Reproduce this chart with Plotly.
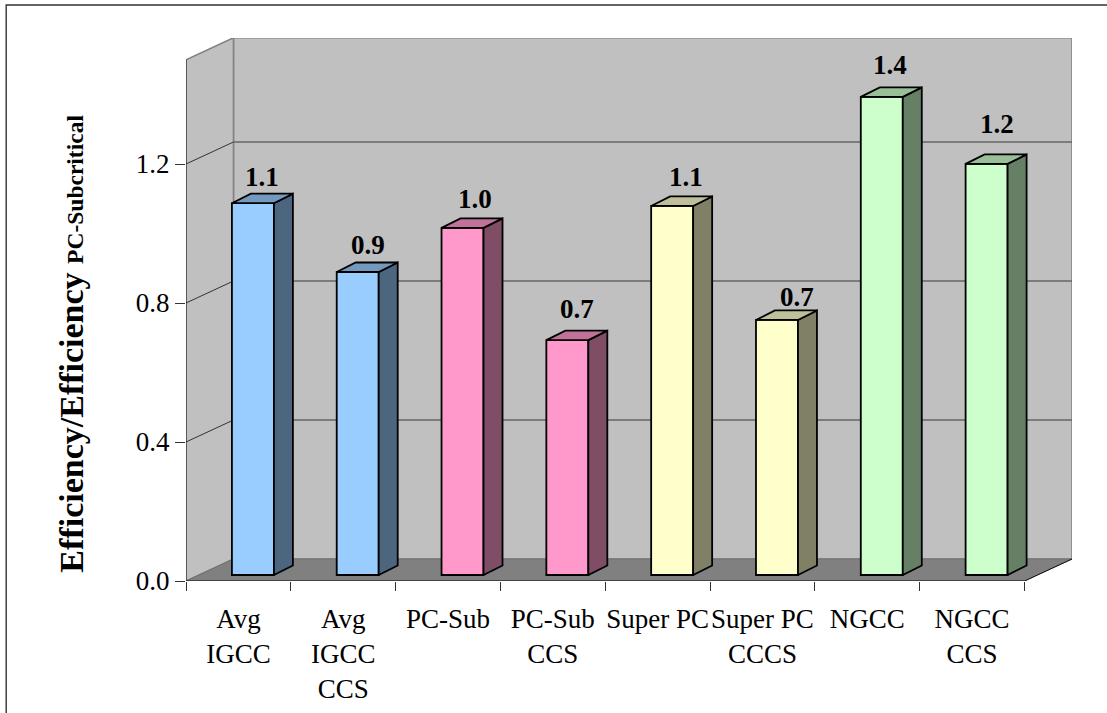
import plotly.graph_objects as go

categories = ["Avg<br>IGCC", "Avg<br>IGCC<br>CCS", "PC-Sub", "PC-Sub<br>CCS", "Super PC",
              "Super PC<br>CCCS", "NGCC", "NGCC<br>CCS"]
values = [1.07, 0.872, 0.999, 0.676, 1.062, 0.734, 1.376, 1.183]
labels = ["1.1", "0.9", "1.0", "0.7", "1.1", "0.7", "1.4", "1.2"]
y_ticks = [0.0, 0.4, 0.8, 1.2]
front_colors = ["#99CCFF", "#99CCFF", "#FF99CC", "#FF99CC", "#FFFFCC", "#FFFFCC", "#CCFFCC", "#CCFFCC"]
side_colors = ["#4D6680", "#4D6680", "#804D66", "#804D66", "#808066", "#808066", "#668066", "#668066"]
top_colors = ["#7399BF", "#7399BF", "#BF7399", "#BF7399", "#BFBF99", "#BFBF99", "#99BF99", "#99BF99"]
label_dx = [9, 10, 12, 10, 14, 20, 8, 10]
label_dy = [26, 27, 29, 31, 29, 23, 32, 40]

W, H = 1107, 713
L, R, T, B = 185.5, 1072.5, 38, 581
PX_X = 104.85   # px per category
PX_Y = 347.5    # px per unit
FONT = "Liberation Serif"

wall_dx, wall_dy = 47.5 / PX_X, 22 / PX_Y
bar_off, bar_base = 14.5 / PX_X, 6 / PX_Y
bar_w = 42 / PX_X
depth_x, depth_y = 19 / PX_X, 9.5 / PX_Y
y_top = 1.5
x0, x1 = -0.5, 7.5


def path(pts):
    return "M" + " L".join(f"{a},{b}" for a, b in pts) + " Z"


GREY = "#808080"
shapes = [
    dict(type="path", path=path([(x0 + wall_dx, wall_dy), (x1 + wall_dx, wall_dy), (x1 + wall_dx, y_top + wall_dy),
                                 (x0 + wall_dx, y_top + wall_dy)]),
         fillcolor="#C0C0C0", line=dict(color=GREY, width=1.5), layer="below"),
    dict(type="path", path=path([(x0, 0), (x0 + wall_dx, wall_dy), (x0 + wall_dx, y_top + wall_dy), (x0, y_top)]),
         fillcolor="#C0C0C0", line=dict(color=GREY, width=1.5), layer="below"),
    dict(type="path", path=path([(x0, 0), (x1, 0), (x1 + wall_dx, wall_dy), (x0 + wall_dx, wall_dy)]),
         fillcolor=GREY, line=dict(color="#707070", width=1), layer="below"),
]
for t in y_ticks[1:]:
    shapes.append(dict(type="line", x0=x0, y0=t, x1=x0 + wall_dx, y1=t + wall_dy,
                       line=dict(color="#333333", width=1), layer="below"))
    shapes.append(dict(type="line", x0=x0 + wall_dx, y0=t + wall_dy, x1=x1 + wall_dx, y1=t + wall_dy,
                       line=dict(color="#666666", width=1.5), layer="below"))
shapes += [
    dict(type="line", x0=x0, y0=0, x1=x0, y1=y_top, line=dict(color="#222222", width=1), layer="below"),
    dict(type="line", x0=x0, y0=0, x1=x1, y1=0, line=dict(color="#111111", width=1.2), layer="below"),
    dict(type="line", x0=x1, y0=0, x1=x1 + wall_dx, y1=wall_dy, line=dict(color="#111111", width=1), layer="below"),
    dict(type="path", xref="paper", yref="paper",
         path=path([((5.5 - L) / (R - L), (B - (H + 20)) / (B - T)),
                    ((5.5 - L) / (R - L), (B - 5) / (B - T)),
                    ((W + 20 - L) / (R - L), (B - 5) / (B - T)),
                    ((W + 20 - L) / (R - L), (B - (H + 20)) / (B - T))]),
         line=dict(color="#333333", width=1.4), fillcolor="rgba(0,0,0,0)", layer="above"),
]

fig = go.Figure()
xs = list(range(len(values)))
fig.add_trace(go.Bar(
    x=[i + bar_off for i in xs], y=values, base=[bar_base] * len(values), width=bar_w,
    marker=dict(color=front_colors, line=dict(color="black", width=1.8)), showlegend=False, hoverinfo="skip"))

for i, v in zip(xs, values):
    left = i + bar_off - bar_w / 2
    right = i + bar_off + bar_w / 2
    top = bar_base + v
    side = [(right, bar_base), (right + depth_x, bar_base + depth_y), (right + depth_x, top + depth_y), (right, top),
            (right, bar_base)]
    roof = [(left, top), (right, top), (right + depth_x, top + depth_y), (left + depth_x, top + depth_y), (left, top)]
    for poly, col in ((side, side_colors[i]), (roof, top_colors[i])):
        fig.add_trace(go.Scatter(x=[p[0] for p in poly], y=[p[1] for p in poly], mode="lines", fill="toself",
                                 fillcolor=col, line=dict(color="black", width=1.8), showlegend=False,
                                 hoverinfo="skip"))

annotations = [
    dict(x=i + bar_off, y=bar_base + v, xref="x", yref="y", text=f"<b>{lab}</b>", showarrow=False,
         xshift=dx, yshift=dy, xanchor="center", yanchor="middle", font=dict(family=FONT, size=27, color="black"))
    for i, v, lab, dx, dy in zip(xs, values, labels, label_dx, label_dy)
]
annotations.append(dict(
    xref="paper", yref="paper", x=(70 - L) / (R - L), y=(B - 344) / (B - T), textangle=-90, showarrow=False,
    xanchor="center", yanchor="middle",
    text='<b>Efficiency/Efficiency <span style="font-size:23.5px">PC-Subcritical</span></b>',
    font=dict(family=FONT, size=34, color="black")))

fig.update_layout(
    width=W, height=H, margin=dict(l=L, r=W - R, t=T, b=H - B, pad=0, autoexpand=False),
    paper_bgcolor="white", plot_bgcolor="white", barmode="overlay", shapes=shapes, annotations=annotations,
    font=dict(family=FONT, size=27, color="black"), showlegend=False,
    xaxis=dict(range=[x0, x1 + wall_dx], tickmode="array", tickvals=xs, ticktext=categories, ticks="",
               ticklabelstandoff=19, showgrid=False, zeroline=False, showline=False,
               minor=dict(tickmode="array", tickvals=[i - 0.5 for i in range(9)], ticks="outside", ticklen=9,
                          tickcolor="#333333", tickwidth=1, showgrid=False)),
    yaxis=dict(range=[0, (B - T) / PX_Y], tickmode="array", tickvals=y_ticks, tickformat=".1f", ticks="outside",
               ticklen=10, tickcolor="#333333", tickwidth=1, showgrid=False, zeroline=False, showline=False),
)
fig.write_html("out.html", config={"displayModeBar": False},
               post_script="document.body.style.margin='0';document.body.style.overflow='hidden';")
